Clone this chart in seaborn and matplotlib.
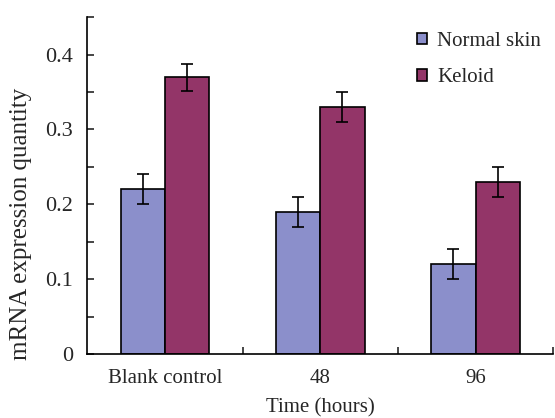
import matplotlib
matplotlib.use("Agg")
import matplotlib.pyplot as plt
import seaborn as sns
import pandas as pd

times = ["Blank control", "48", "96"]
groups = ["Normal skin", "Keloid"]
normal_vals = [0.22, 0.19, 0.12]
normal_err = [0.02, 0.02, 0.02]
keloid_vals = [0.37, 0.33, 0.23]
keloid_err = [0.018, 0.02, 0.02]

df = pd.DataFrame({
    "time": times * 2,
    "group": [groups[0]] * 3 + [groups[1]] * 3,
    "value": normal_vals + keloid_vals,
    "err": normal_err + keloid_err,
})

sns.set_style("white")
plt.rcParams["font.family"] = ["Liberation Serif", "DejaVu Serif"]

fig = plt.figure(figsize=(5.55, 4.18), dpi=100)
ax = fig.add_axes([0.157, 0.153, 0.84, 0.806])

sns.barplot(data=df, x="time", y="value", hue="group", order=times, hue_order=groups,
            palette=["#8B8FCB", "#933568"], width=0.57, errorbar=None,
            edgecolor="black", linewidth=1.2, saturation=1, ax=ax)

# error bars on top of each bar
for cont, g in zip(ax.containers, groups):
    sub = df[df.group == g].set_index("time").loc[times]
    xs = [p.get_x() + p.get_width() / 2 for p in cont.patches]
    ax.errorbar(xs, sub["value"], yerr=sub["err"], fmt="none", ecolor="black",
                elinewidth=1.2, capsize=4, capthick=1.2)

ax.set_xlim(-0.5, 2.5)
ax.set_ylim(0, 0.45)
ax.set_yticks([0, 0.05, 0.1, 0.15, 0.2, 0.25, 0.3, 0.35, 0.4, 0.45])
ax.set_yticklabels(["0", "", "0.1", "", "0.2", "", "0.3", "", "0.4", ""])
ax.set_xticks([0, 1, 2])
ax.set_xticklabels(times)
ax.set_xticks([0.5, 1.5, 2.5], minor=True)
ax.tick_params(axis="x", which="major", length=0, labelsize=15, pad=11)
ax.tick_params(axis="x", which="minor", direction="in", length=5, width=1.2, bottom=True)
ax.tick_params(axis="y", direction="in", length=5, width=1.2, left=True, labelsize=16, pad=10)

for s in ["top", "right"]:
    ax.spines[s].set_visible(False)
for s in ["left", "bottom"]:
    ax.spines[s].set_color("black")
    ax.spines[s].set_linewidth(1.2)

ax.set_xlabel("Time (hours)", fontsize=15, labelpad=7)
ax.set_ylabel("mRNA expression quantity", fontsize=18)
ax.yaxis.set_label_coords(-0.118, 0.385)

leg = ax.legend(loc="upper right", bbox_to_anchor=(1.005, 1.0), frameon=False, fontsize=15,
                handlelength=0.45, handleheight=0.45, handletextpad=0.5, labelspacing=0.85,
                borderaxespad=0.3)
for h in leg.legend_handles:
    h.set_edgecolor("black")
    h.set_linewidth(1.2)

fig.savefig("out.png", dpi=100)
